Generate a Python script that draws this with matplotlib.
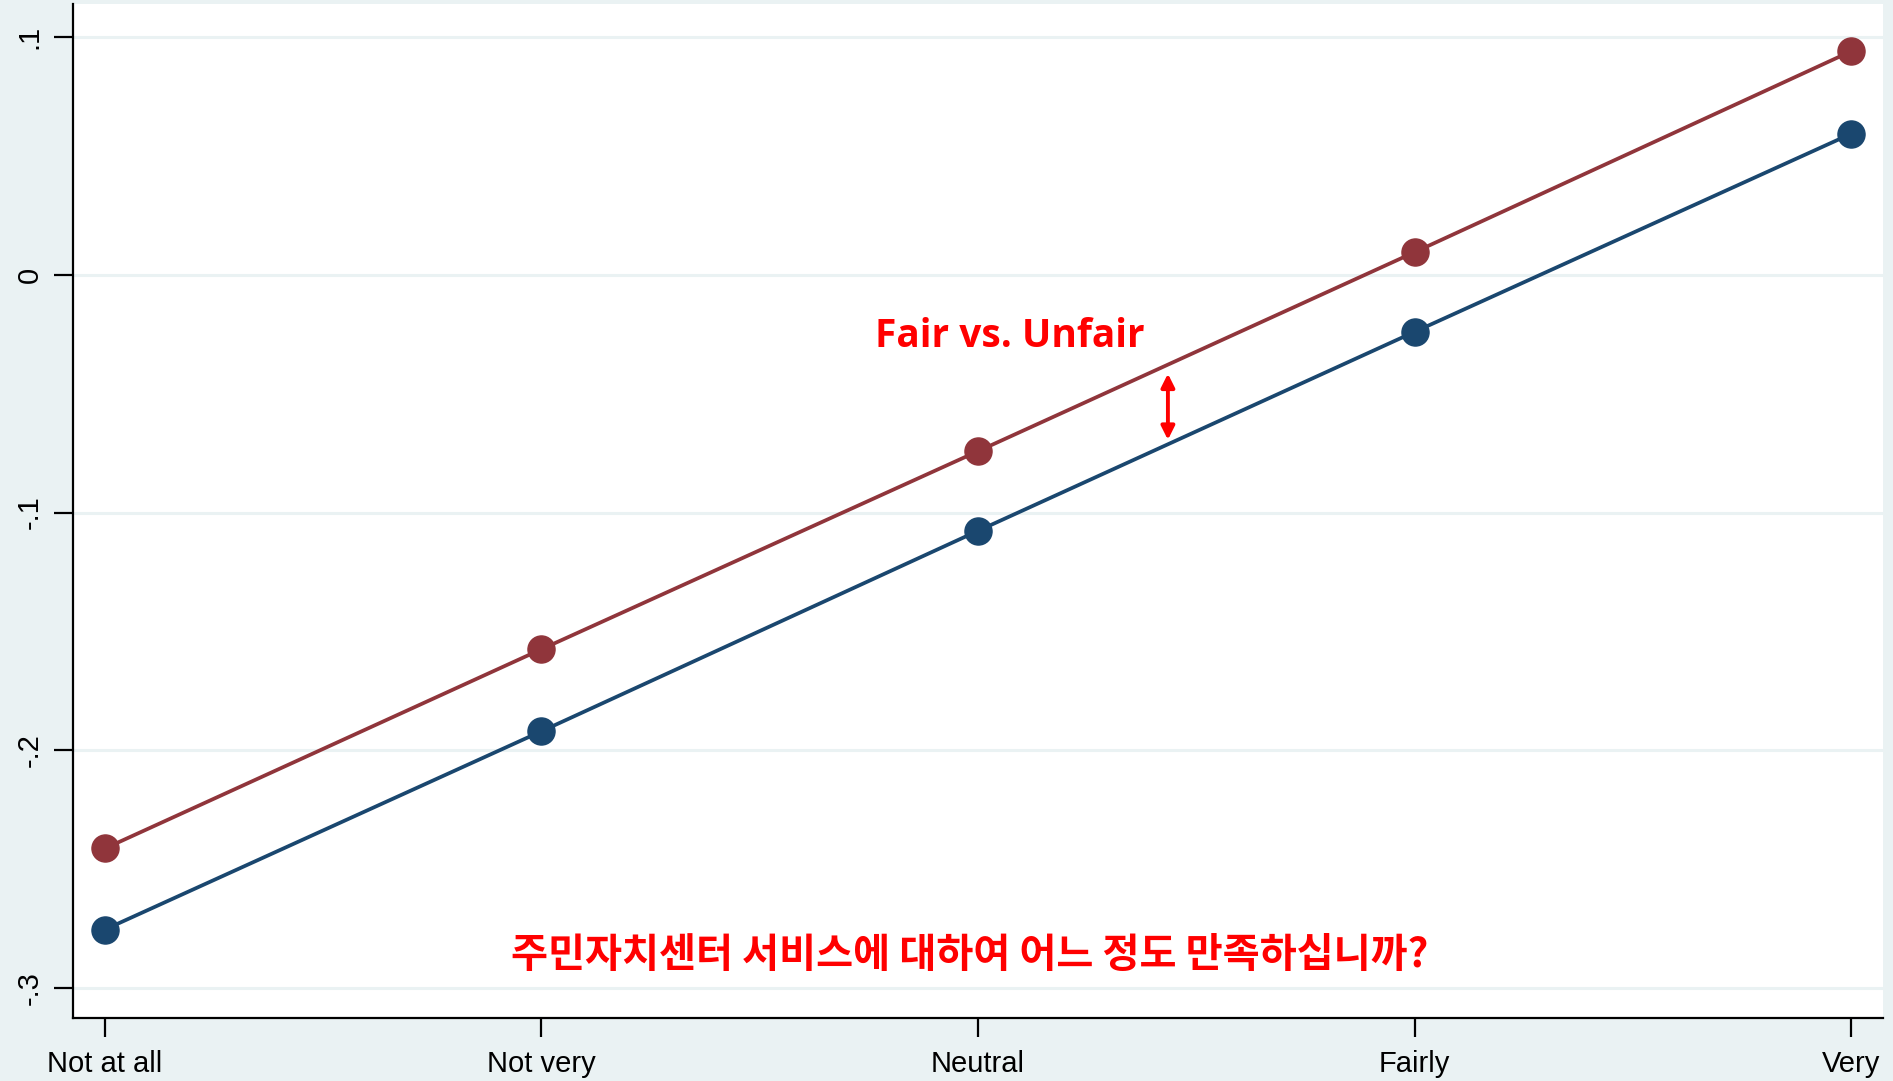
import matplotlib
matplotlib.use("Agg")
import matplotlib.pyplot as plt

categories = ["Not at all", "Not very", "Neutral", "Fairly", "Very"]
fair = [-0.2413, -0.1575, -0.0742, 0.0095, 0.0940]
unfair = [-0.2754, -0.1920, -0.1077, -0.0240, 0.0593]
yticks = [0.1, 0.0, -0.1, -0.2, -0.3]
ytick_labels = [".1", "0", "-.1", "-.2", "-.3"]

BG = "#EAF2F3"
RED = "#90353B"
BLUE = "#1A476F"

fig = plt.figure(figsize=(18.93, 10.81), dpi=100, facecolor=BG)
ax = fig.add_axes([73/1893, 63/1081, 1810/1893, 1014/1081])
ax.set_facecolor("white")

x = list(range(1, len(categories) + 1))
ax.plot(x, fair, color=RED, lw=2.7, marker="o", ms=19.5, zorder=3)
ax.plot(x, unfair, color=BLUE, lw=2.7, marker="o", ms=19.5, zorder=3)

ax.set_xlim(1 - 0.073, 5 + 0.073)
ax.set_ylim(-0.3126, 0.1139)

ax.set_xticks(x)
ax.set_xticklabels(categories, fontsize=21, family=["Liberation Sans", "DejaVu Sans"])
ax.set_yticks(yticks)
ax.set_yticklabels(ytick_labels, fontsize=21, rotation=90, va="center",
                   family=["Liberation Sans", "DejaVu Sans"])
ax.tick_params(axis="x", length=14, width=1.6, color="black", pad=9)
ax.tick_params(axis="y", length=14, width=1.6, color="black", pad=7)

for s in ["top", "right"]:
    ax.spines[s].set_visible(False)
for s in ["left", "bottom"]:
    ax.spines[s].set_linewidth(1.6)

ax.grid(axis="y", color=BG, lw=2.2, zorder=0)
ax.set_axisbelow(True)

ax.text(3.073, -0.026, "Fair vs. Unfair", color="#FF0000", fontsize=28,
        fontweight="bold", family=["Open Sans", "DejaVu Sans"],
        ha="center", va="center")
ax.annotate("", xy=(3.435, -0.0416), xytext=(3.435, -0.0694),
            arrowprops=dict(arrowstyle="<|-|>", color="#FF0000", lw=2.8,
                            mutation_scale=20, shrinkA=0, shrinkB=0))
ax.text(2.982, -0.2865, "주민자치센터 서비스에 대하여 어느 정도 만족하십니까?",
        color="#FF0000", fontsize=29, fontweight="bold",
        family=["Noto Sans CJK KR", "DejaVu Sans"], ha="center", va="center")

fig.savefig("out.png", dpi=100, facecolor=BG)
